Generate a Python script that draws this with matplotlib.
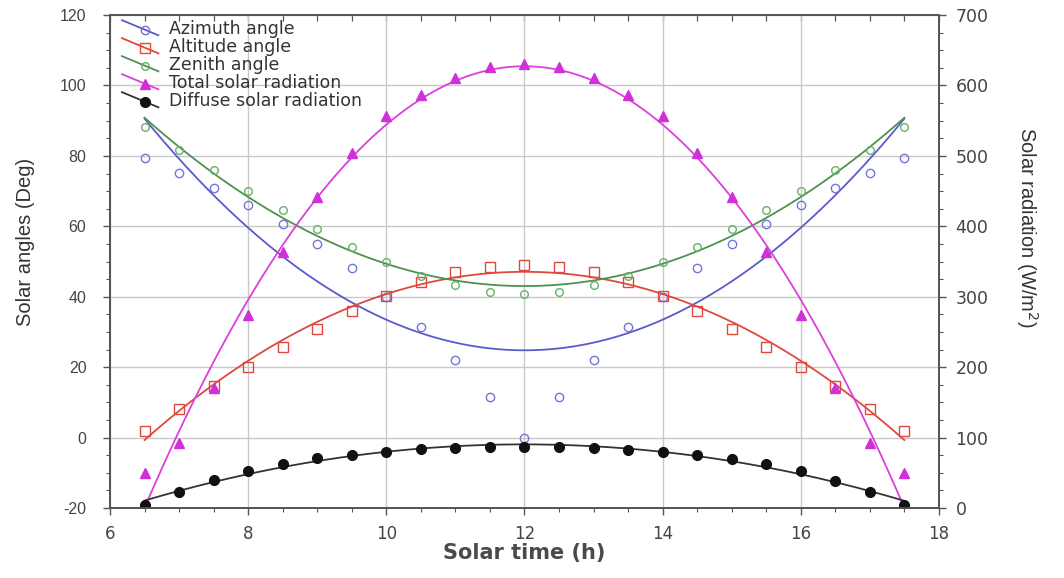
import numpy as np
import matplotlib
matplotlib.use("Agg")
import matplotlib.pyplot as plt
from matplotlib.ticker import MultipleLocator, NullFormatter
from matplotlib.legend_handler import HandlerBase
from matplotlib.lines import Line2D

plt.rcParams['font.family'] = ['Liberation Sans', 'DejaVu Sans']
plt.rcParams['axes.unicode_minus'] = False

# solar time (h)
hours = [6.5, 7, 7.5, 8, 8.5, 9, 9.5, 10, 10.5, 11, 11.5, 12,
         12.5, 13, 13.5, 14, 14.5, 15, 15.5, 16, 16.5, 17, 17.5]

# solar angles (deg) - left axis
azimuth = [79.5, 75.2, 70.8, 66.0, 60.6, 55.0, 48.2, 40.0, 31.5, 22.0, 11.4, 0.0,
           11.4, 22.0, 31.5, 40.0, 48.2, 55.0, 60.6, 66.0, 70.8, 75.2, 79.5]
altitude = [1.8, 8.0, 14.7, 20.1, 25.7, 30.9, 36.0, 40.2, 44.3, 47.0, 48.5, 49.1,
            48.5, 47.0, 44.3, 40.2, 36.0, 30.9, 25.7, 20.1, 14.7, 8.0, 1.8]
zenith = [88.2, 81.8, 76.0, 70.1, 64.5, 59.2, 54.2, 49.8, 46.0, 43.3, 41.3, 40.8,
          41.3, 43.3, 46.0, 49.8, 54.2, 59.2, 64.5, 70.1, 76.0, 81.8, 88.2]

# solar radiation (W/m2) - right axis
total_rad = [50, 93, 171, 274, 364, 442, 504, 556, 587, 610, 626, 631,
             626, 610, 587, 556, 504, 442, 364, 274, 171, 93, 50]
diffuse_rad = [4, 23, 40, 53, 62.5, 70.5, 75, 80, 84, 85.7, 86, 87,
               86, 85, 83, 79.5, 75, 70, 62.5, 52, 39, 23, 5]

labels = ['Azimuth angle', 'Altitude angle', 'Zenith angle',
          'Total solar radiation', 'Diffuse solar radiation']

x = np.array(hours)
xf = np.linspace(x.min(), x.max(), 300)

def fit(y):
    # 2nd order fitted curve through the measured points
    return np.polyval(np.polyfit(x, np.array(y), 2), xf)


class DiagHandler(HandlerBase):
    # legend key drawn as a slanted line with the marker on it
    def create_artists(self, legend, orig, xdescent, ydescent, width, height,
                       fontsize, trans):
        line, mark = orig
        x0, x1 = -xdescent, -xdescent + width
        y0, y1 = -ydescent + height * 1.1, -ydescent - height * 0.15
        ln = Line2D([x0, x1], [y0, y1], color=line.get_color(), lw=line.get_linewidth())
        mk = Line2D([x0 + 0.62 * width], [y0 + 0.62 * (y1 - y0)], linestyle='none',
                    marker=mark.get_marker(), markersize=mark.get_markersize(),
                    mfc=mark.get_markerfacecolor(), mec=mark.get_markeredgecolor(),
                    mew=mark.get_markeredgewidth())
        ln.set_transform(trans)
        mk.set_transform(trans)
        return [ln, mk]


fig = plt.figure(figsize=(10.64, 5.78), dpi=100)
ax = fig.add_axes([0.1034, 0.121, 0.779, 0.853])
ax2 = ax.twinx()

c_az = '#5a5ad0'
c_al = '#e0483e'
c_ze = '#4f9150'
c_tot = '#dd3fdd'

l1, = ax.plot(xf, fit(azimuth), color=c_az, lw=1.3)
m1, = ax.plot(x, azimuth, 'o', ms=6, mfc='none', mec='#7474e0', mew=1.0)
l2, = ax.plot(xf, fit(altitude), color=c_al, lw=1.3)
m2, = ax.plot(x, altitude, 's', ms=7.5, mfc='none', mec=c_al, mew=1.0)
l3, = ax.plot(xf, fit(zenith), color=c_ze, lw=1.3)
m3, = ax.plot(x, zenith, 'o', ms=5.5, mfc='none', mec='#66b266', mew=1.0)

l4, = ax2.plot(xf, fit(total_rad), color=c_tot, lw=1.3)
m4, = ax2.plot(x, total_rad, '^', ms=6.5, color='#d030d8')
l5, = ax2.plot(xf, fit(diffuse_rad), color='#333333', lw=1.3)
m5, = ax2.plot(x, diffuse_rad, 'o', ms=7, color='#111111')

ax.set_xlim(6, 18)
ax.set_ylim(-20, 120)
ax2.set_ylim(0, 700)

ax.xaxis.set_major_locator(MultipleLocator(2))
ax.xaxis.set_minor_locator(MultipleLocator(0.5))
ax.yaxis.set_major_locator(MultipleLocator(20))
ax.yaxis.set_minor_locator(MultipleLocator(5))
ax2.yaxis.set_major_locator(MultipleLocator(100))
ax2.yaxis.set_minor_locator(MultipleLocator(25))

ax.grid(True, which='major', color='#c8c8c8', lw=1.0)
ax.set_axisbelow(True)

for a in (ax, ax2):
    for s in a.spines.values():
        s.set_color('#555555')
        s.set_linewidth(1.3)
    a.tick_params(which='both', colors='#555555', labelcolor='#444444')
    a.tick_params(which='major', length=5, width=1.0, pad=7)
    a.tick_params(which='minor', length=3, width=0.8)

ax.tick_params(axis='y', labelsize=11.5, pad=12)
ax.tick_params(axis='x', labelsize=12, pad=7)
ax2.tick_params(axis='y', labelsize=12.5, pad=7)
for t in ax.get_xticklabels() + ax2.get_yticklabels():
    t.set_family('DejaVu Sans')

# small inward ticks along the top frame
top = ax.secondary_xaxis('top')
top.xaxis.set_major_locator(MultipleLocator(0.5))
top.xaxis.set_major_formatter(NullFormatter())
top.tick_params(direction='in', length=4, width=0.9, colors='#555555')
top.spines['top'].set_visible(False)

ax.set_xlabel('Solar time (h)', fontsize=15, color='#4a4a4a', weight='bold',
              family='DejaVu Sans', labelpad=0)
ax.set_ylabel('Solar angles (Deg)', fontsize=14.5, color='#333333')
ax.yaxis.set_label_coords(-0.09, 0.54)
ax2.set_ylabel('Solar radiation (W/m$^2$)', fontsize=14.5, color='#333333',
               rotation=270)
ax2.yaxis.set_label_coords(1.122, 0.57)

handles = [(l1, m1), (l2, m2), (l3, m3), (l4, m4), (l5, m5)]
leg = ax2.legend(handles, labels, loc='upper left', frameon=False,
                 prop={'family': 'DejaVu Sans', 'size': 12.5},
                 handler_map={tuple: DiagHandler()},
                 handlelength=2.1, labelspacing=0.0, borderaxespad=0.0,
                 handletextpad=0.6, bbox_to_anchor=(0.006, 1.005))
for t in leg.get_texts():
    t.set_color('#333333')

fig.savefig('out.png', dpi=100)
